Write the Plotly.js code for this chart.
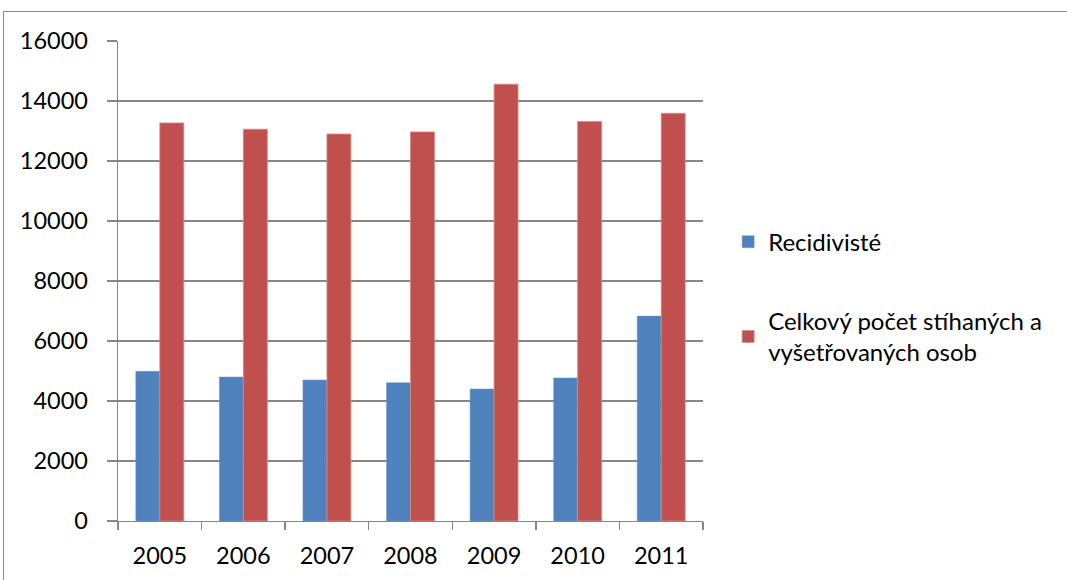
<!DOCTYPE html>
<html>
<head>
<meta charset="utf-8">
<script src="https://cdn.plot.ly/plotly-3.0.1.min.js"></script>
<style>
  html, body { margin: 0; padding: 0; background: #fff; }
  #wrap { position: relative; width: 1067px; height: 580px; }
  #chart { width: 1067px; height: 580px; }
  #frame { position: absolute; left: 3px; top: 11px; width: 1070px; height: 580px; border: 1px solid #8c8c8c; box-sizing: border-box; pointer-events: none; }
</style>
</head>
<body>
<div id="wrap">
  <div id="chart"></div>
  <div id="frame"></div>
</div>
<script>
const years = ["2005", "2006", "2007", "2008", "2009", "2010", "2011"];
const recidivists = [4990, 4800, 4700, 4610, 4400, 4770, 6830];
const totalPersons = [13270, 13060, 12900, 12970, 14560, 13320, 13590];
const seriesNames = ["Recidivisté", "Celkový počet stíhaných a<br>vyšetřovaných osob"];
const yTicks = [0, 2000, 4000, 6000, 8000, 10000, 12000, 14000, 16000];

const font = "Lato, Liberation Sans, Arial, sans-serif";

const traces = [
  {
    type: "bar", x: years, y: recidivists, name: seriesNames[0],
    legendgroup: "a",
    marker: { color: "#4F81BD", line: { color: "#6f97c9", width: 0.5 } }
  },
  {
    type: "bar", x: years, y: totalPersons, name: seriesNames[1],
    legendgroup: "b",
    marker: { color: "#C0504D", line: { color: "#d58a88", width: 0.8 } }
  }
];

const layout = {
  width: 1067, height: 580,
  margin: { l: 118, r: 364, t: 41, b: 59, pad: 0 },
  paper_bgcolor: "#ffffff", plot_bgcolor: "#ffffff",
  font: { family: font, size: 23.5, color: "#000000" },
  barmode: "group",
  bargap: 0.426, bargroupgap: 0,
  showlegend: true,
  legend: {
    x: 1.043, xanchor: "left", y: 0.628, yanchor: "top",
    font: { family: font, size: 24, color: "#000" },
    tracegroupgap: 45, itemwidth: 30,
    bgcolor: "rgba(0,0,0,0)"
  },
  xaxis: {
    type: "category",
    tickson: "boundaries",
    ticks: "outside", ticklen: 8, tickwidth: 1.3, tickcolor: "#868686",
    showline: true, linecolor: "#868686", linewidth: 1.3,
    showgrid: false, zeroline: false,
    ticklabelstandoff: 13,
    tickfont: { family: font, size: 23.5, color: "#000" },
    fixedrange: true
  },
  yaxis: {
    range: [0, 16000],
    tickmode: "array", tickvals: yTicks, ticktext: yTicks.map(String),
    ticks: "outside", ticklen: 10, tickwidth: 1.3, tickcolor: "#868686",
    showline: true, linecolor: "#868686", linewidth: 1.3,
    showgrid: true, gridcolor: "#868686", gridwidth: 1.3,
    zeroline: false,
    ticklabelstandoff: 14,
    tickfont: { family: font, size: 23.5, color: "#000" },
    fixedrange: true
  }
};

Plotly.newPlot("chart", traces, layout, { displayModeBar: false, staticPlot: true });
</script>
</body>
</html>
